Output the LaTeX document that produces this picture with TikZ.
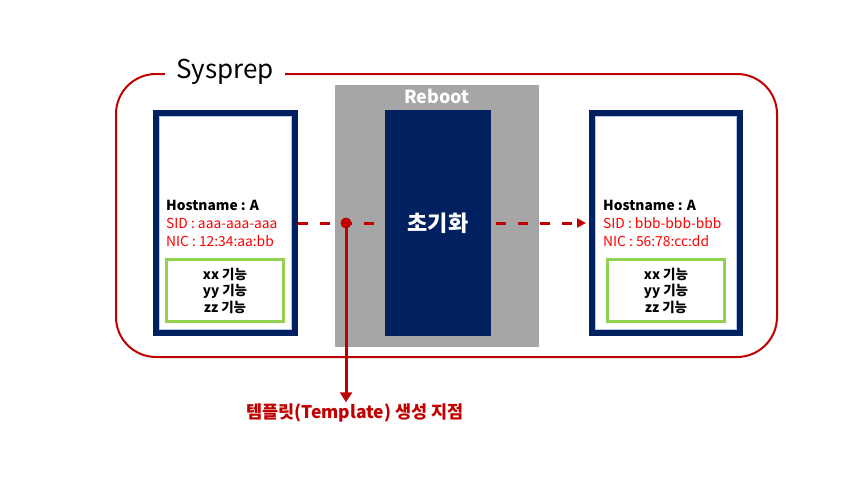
\documentclass[tikz,border=0pt]{standalone}
\usepackage{fontspec}
\setmainfont{Noto Sans CJK KR}
\usetikzlibrary{arrows.meta,positioning,calc}
\definecolor{navy}{HTML}{002060}
\definecolor{darkred}{HTML}{C00000}
\definecolor{brightred}{HTML}{FF0000}
\definecolor{lightgreen}{HTML}{92D050}
\definecolor{midgray}{HTML}{A6A6A6}
\definecolor{paleblue}{HTML}{B4C7E7}

\begin{document}
\begin{tikzpicture}[x=1pt,y=-1pt,
 frame/.style={draw=darkred,line width=2pt,rounded corners=40pt,minimum width=661pt,minimum height=283pt,inner sep=0pt},
 vmbox/.style={draw=navy,fill=white,line width=6pt,minimum width=139pt,minimum height=220pt,inner sep=0pt},
 featbox/.style={draw=lightgreen,line width=3pt,minimum width=117pt,minimum height=62pt,inner sep=0pt,align=center,font=\bfseries\fontsize{13.5}{16.5}\selectfont},
 info/.style={anchor=west,align=left,inner sep=3pt,font=\fontsize{13.8}{18}\selectfont},
 flow/.style={draw=darkred,line width=3pt,dash pattern=on 10pt off 12pt}]
\path[use as bounding box] (0,0) rectangle (865,479);
\node[frame] (sysprep) at (446.5,215.5) {};
\node[fill=white,inner xsep=11pt,font=\fontsize{26}{30}\selectfont] (title) at ($(sysprep.north west)+(110,-1)$) {Sysprep};
\node[fill=midgray,minimum width=204pt,minimum height=262pt,inner sep=0pt] (reboot) at (437,216) {};
\node[text=white,font=\bfseries\fontsize{18}{20}\selectfont] (reboottxt) at (437,96) {Reboot};
\node[vmbox] (srcvm) at (225.5,223) {};
\node[vmbox,minimum width=148pt] (dstvm) at (666,223) {};
\coordinate (tplpt) at (346,223);
\draw[flow,-{Triangle[length=9pt,width=9pt]},shorten >=3pt] (srcvm.east) -- (dstvm.west);
\node[fill=navy,minimum width=106pt,minimum height=226pt,inner sep=0pt,text=white,font=\bfseries\fontsize{22}{24}\selectfont] (init) at (438,223) {초기화};
\node[vmbox] at (srcvm) {};
\draw[paleblue,line width=1pt] ($(srcvm.north west)+(6.5,6.5)$) rectangle ($(srcvm.south east)+(-6.5,-6.5)$);
\node[vmbox,minimum width=148pt] at (dstvm) {};
\draw[paleblue,line width=1pt] ($(dstvm.north west)+(6.5,6.5)$) rectangle ($(dstvm.south east)+(-6.5,-6.5)$);
\node[info] (srcinfo) at (163,223) {\textbf{Hostname : A}\\\textcolor{brightred}{SID : aaa-aaa-aaa}\\\textcolor{brightred}{NIC : 12:34:aa:bb}};
\node[info] (dstinfo) at (600,223) {\textbf{Hostname : A}\\\textcolor{brightred}{SID : bbb-bbb-bbb}\\\textcolor{brightred}{NIC : 56:78:cc:dd}};
\node[featbox] (srcfeat) at (225,290.5) {xx 기능\\yy 기능\\zz 기능};
\node[featbox] (dstfeat) at (666,290.5) {xx 기능\\yy 기능\\zz 기능};
% template point
\node[text=darkred,font=\bfseries\fontsize{17.5}{20}\selectfont] (tpllabel) at (355,413) {템플릿(Template) 생성 지점};
\fill[darkred] (tplpt) circle (5.5pt);
\draw[darkred,line width=3pt,-{Triangle[length=10pt,width=12pt]}] (tplpt) -- ($(tplpt |- tpllabel.north)+(0,2)$);
\end{tikzpicture}
\end{document}
